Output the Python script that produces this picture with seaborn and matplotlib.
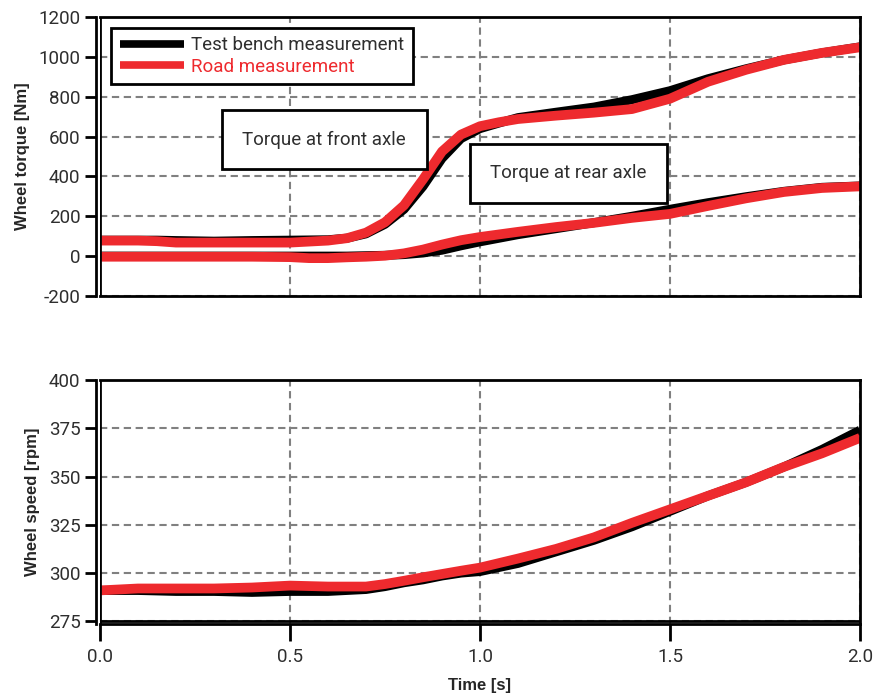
import numpy as np
import pandas as pd
import matplotlib
matplotlib.use("Agg")
import matplotlib.pyplot as plt
import seaborn as sns

# ---------------- data ----------------
t_front = [0.0, 0.1, 0.15, 0.2, 0.3, 0.4, 0.5, 0.6, 0.65, 0.7, 0.75, 0.8, 0.85, 0.9, 0.95,
           1.0, 1.05, 1.1, 1.2, 1.3, 1.4, 1.5, 1.6, 1.7, 1.8, 1.9, 2.0]
front_bench = [80, 80, 80, 78, 75, 78, 80, 82, 90, 112, 160, 235, 350, 490, 590,
               640, 668, 695, 722, 748, 785, 830, 890, 940, 985, 1020, 1050]
front_road = [78, 78, 75, 68, 68, 68, 68, 78, 90, 118, 170, 255, 385, 525, 610,
              652, 672, 688, 705, 720, 738, 790, 875, 935, 985, 1020, 1048]

t_rear = [0.0, 0.1, 0.2, 0.3, 0.4, 0.5, 0.55, 0.6, 0.65, 0.7, 0.75, 0.8, 0.85, 0.9, 0.95,
          1.0, 1.1, 1.2, 1.3, 1.4, 1.5, 1.6, 1.7, 1.8, 1.9, 2.0]
rear_bench = [0, 0, 0, 0, 0, 0, 0, 0, 0, 2, 4, 8, 16, 30, 52,
              72, 108, 138, 168, 200, 235, 268, 298, 325, 345, 352]
rear_road = [-3, -3, -3, -3, -3, -5, -10, -10, -6, -3, 2, 14, 33, 58, 80,
             96, 122, 146, 167, 192, 212, 252, 290, 322, 342, 350]

t_speed = [0.0, 0.1, 0.2, 0.3, 0.4, 0.5, 0.6, 0.7, 0.75, 0.8, 0.85, 0.9, 0.95,
           1.0, 1.1, 1.2, 1.3, 1.4, 1.5, 1.6, 1.7, 1.8, 1.9, 2.0]
speed_bench = [291, 291, 290.5, 290.5, 290, 290.5, 290.5, 291.5, 293, 295, 296.5, 298.5, 300,
               300.8, 305, 311, 317, 324, 332, 340, 347, 355, 364, 374]
speed_road = [291, 292, 292, 292, 292.5, 293.5, 293, 293, 294.3, 296, 297.8, 299.5, 301.2,
              302.8, 307.5, 312.5, 318.5, 326, 333, 340, 347, 355, 362, 370]

x_ticks = [0.0, 0.5, 1.0, 1.5, 2.0]
torque_ticks = [-200, 0, 200, 400, 600, 800, 1000, 1200]
speed_ticks = [275, 300, 325, 350, 375, 400]

BLACK = "#000000"
RED = "#EE2A2E"

# ---------------- style ----------------
sns.set_style("white")
REG = ["Roboto", "DejaVu Sans"]
BOLD = ["Liberation Sans", "DejaVu Sans"]
plt.rcParams["font.family"] = REG

fig = plt.figure(figsize=(8.73, 6.95), dpi=100)
ax1 = fig.add_axes([100 / 873, 1 - 296 / 695, 760 / 873, (296 - 17) / 695])
ax2 = fig.add_axes([100 / 873, 1 - 624 / 695, 760 / 873, (624 - 380) / 695])

tick_color = "#2e2e2e"
grid_kw = dict(color="#808080", linewidth=1.5, linestyle=(0, (3.5, 2.2)))

def draw(ax, t, y, color, lw, label=None):
    df = pd.DataFrame({"t": t, "v": y})
    sns.lineplot(data=df, x="t", y="v", ax=ax, color=color, linewidth=lw,
                 label=label, legend=False, solid_capstyle="butt",
                 solid_joinstyle="round")

# top panel
draw(ax1, t_front, front_bench, BLACK, 6.5, "Test bench measurement")
draw(ax1, t_rear, rear_bench, BLACK, 6.5)
draw(ax1, t_front, front_road, RED, 7.0, "Road measurement")
draw(ax1, t_rear, rear_road, RED, 7.0)

# bottom panel
draw(ax2, t_speed, speed_bench, BLACK, 6.5)
draw(ax2, t_speed, speed_road, RED, 7.0)

for ax in (ax1, ax2):
    ax.set_xlim(0, 2.0)
    ax.set_xticks(x_ticks)
    ax.grid(True, **grid_kw)
    ax.set_axisbelow(True)
    for s in ax.spines.values():
        s.set_color("black")
        s.set_linewidth(2.0)
    ax.spines["left"].set_position(("outward", 3))
    ax.axvline(0, color="black", linewidth=2.0, zorder=5)
    ax.tick_params(axis="y", direction="out", length=8, width=2, color="black",
                   labelsize=13.5, labelcolor=tick_color, pad=3, left=True)

ax1.set_ylim(-200, 1200)
ax1.set_yticks(torque_ticks)
ax1.set_yticklabels([str(v) for v in torque_ticks])
ax1.tick_params(axis="x", bottom=False, labelbottom=False)
ax1.set_xlabel("")
ax1.set_ylabel("Wheel torque [Nm]", fontsize=12, fontweight="bold",
               family=BOLD, labelpad=6)

ax2.set_ylim(273.6, 400)
ax2.set_yticks(speed_ticks)
ax2.set_yticklabels([str(v) for v in speed_ticks])
ax2.axhline(275, color="black", linewidth=2.0, zorder=5)
ax2.tick_params(axis="x", direction="out", length=12, width=2, color="black",
                labelsize=13.5, labelcolor=tick_color, pad=5, bottom=True)
ax2.set_xticklabels([f"{v:.1f}" for v in x_ticks])
ax2.set_xlabel("Time [s]", fontsize=12, fontweight="bold", family=BOLD, labelpad=9)
ax2.set_ylabel("Wheel speed [rpm]", fontsize=12, fontweight="bold",
               family=BOLD, labelpad=6)

# legend
leg = ax1.legend(loc="upper left", bbox_to_anchor=(0.01, 0.975), frameon=True,
                 fancybox=False, edgecolor="black", framealpha=1.0,
                 prop={"family": REG, "size": 13.5},
                 handlelength=3.4, borderpad=0.45, labelspacing=0.2,
                 handletextpad=0.4, borderaxespad=0.2)
leg.get_frame().set_linewidth(2.0)
leg.get_frame().set_facecolor("white")
for txt, col in zip(leg.get_texts(), [tick_color, RED]):
    txt.set_color(col)
for line in leg.get_lines():
    line.set_linewidth(5.5)

# annotation boxes
box_kw = dict(boxstyle="square,pad=1.1", facecolor="white", edgecolor="black", linewidth=2.0)
ax1.text(0.59, 585, "Torque at front axle", ha="center", va="center",
         fontsize=13.5, color=tick_color, bbox=box_kw, zorder=6)
ax1.text(1.233, 416, "Torque at rear axle", ha="center", va="center",
         fontsize=13.5, color=tick_color, bbox=box_kw, zorder=6)

fig.savefig("out.png", dpi=100)
